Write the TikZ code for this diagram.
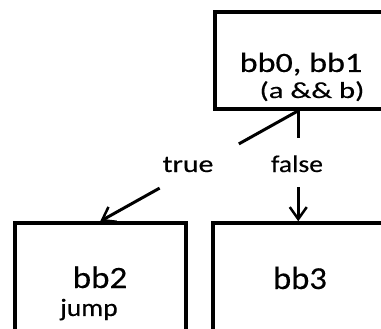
\documentclass[tikz,border=0pt]{standalone}
\usepackage{fontspec}
\usepackage{graphicx}
\setmainfont[FakeBold=0.3]{Carlito}
\usetikzlibrary{arrows.meta,calc}
\newcommand\txt[3]{\fontsize{#1}{#1}\selectfont\scalebox{#2}[1]{#3}}
\begin{document}
\begin{tikzpicture}[x=1pt,y=-1pt,
  blockbox/.style={draw,line width=3.5pt,rectangle,inner sep=0pt},
  lbl/.style={anchor=base,inner sep=0pt},
  conn/.style={line width=3pt},
  arrowtip/.style={-{Straight Barb[length=12pt,width=17pt,line width=2.5pt]}}]
\useasboundingbox (0,0) rectangle (381,329);
\clip (0,0) rectangle (381,329);
\node[blockbox,minimum width=185pt,minimum height=97pt] (b0) at (307.5,60.5) {};
\node[blockbox,minimum width=171pt,minimum height=122pt] (b2) at (100.5,284) {};
\node[blockbox,minimum width=187pt,minimum height=122pt] (b3) at (306.5,284) {};
\node[lbl] (t0) at (301,72) {\txt{28}{1.22}{bb0, bb1}};
\node[lbl] (t1) at (312,98) {\txt{23}{1.33}{(a \&\& b)}};
\node[lbl] (ltrue) at (188,172) {\txt{24}{1.24}{true}};
\node[lbl] (lfalse) at (297,172) {\txt{24}{1.15}{false}};
\node[lbl] (t2) at (100,288) {\txt{31}{1.13}{bb2}};
\node[lbl] (t2j) at (89,316) {\txt{25}{1.1}{jump}};
\node[lbl] (t3) at (300,289) {\txt{32}{1.08}{bb3}};
\coordinate (s0) at ([xshift=85pt]b0.south west);
\coordinate (e2) at ([xshift=87pt]b2.north west);
\coordinate (e3) at ([xshift=87pt]b3.north west);
\draw[conn] (s0) -- ($(s0)!0.30!(e2)$);
\draw[conn,arrowtip] ($(s0)!0.70!(e2)$) -- (e2);
\draw[conn] (s0) -- ($(s0)!0.245!(e3)$);
\draw[conn,arrowtip] ($(s0)!0.693!(e3)$) -- (e3);
\end{tikzpicture}
\end{document}
